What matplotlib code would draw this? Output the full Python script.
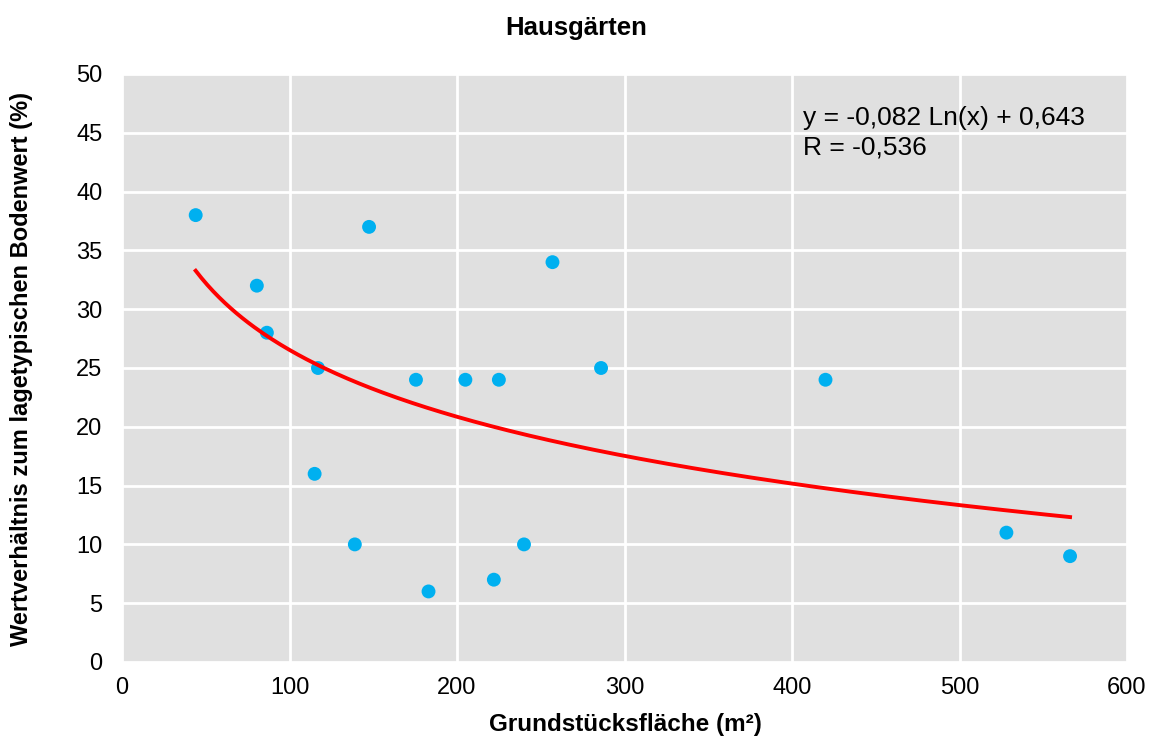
import numpy as np
import matplotlib
matplotlib.use("Agg")
import matplotlib.pyplot as plt

plt.rcParams["font.family"] = ["Liberation Sans", "DejaVu Sans"]

# Grundstücksfläche (m²) und Wertverhältnis (%)
flaeche = [44, 80.5, 86.5, 117, 115, 147.5, 139, 175.5, 183, 205, 225, 222, 240, 257, 286, 420, 528, 566]
wert = [38, 32, 28, 25, 16, 37, 10, 24, 6, 24, 24, 7, 10, 34, 25, 24, 11, 9]

# logarithmischer Trend: y = a Ln(x) + b (Anteil, nicht Prozent)
a, b = -0.082, 0.643

fig = plt.figure(figsize=(11.49, 7.37), dpi=100)
ax = fig.add_axes([122 / 1149, 1 - 662 / 737, 1005 / 1149, 588 / 737])
ax.set_facecolor("#e0e0e0")
ax.grid(True, color="white", lw=2)
ax.set_axisbelow(True)
for s in ax.spines.values():
    s.set_visible(False)

ax.scatter(flaeche, wert, s=100, color="#00b0f0", zorder=3, edgecolors="none")
xs = np.linspace(min(flaeche), max(flaeche), 300)
ax.plot(xs, (a * np.log(xs) + b) * 100, color="#ff0000", lw=2.8, zorder=4)

ax.set_xlim(0, 600)
ax.set_ylim(0, 50)
ax.set_xticks(range(0, 601, 100))
ax.set_yticks(range(0, 51, 5))
ax.tick_params(length=0, labelsize=17)
ax.tick_params(axis="x", pad=11)
ax.tick_params(axis="y", pad=14)

ax.text(803 / 1149, 1 - 133 / 737, "y = -0,082 Ln(x) + 0,643\nR = -0,536",
        transform=fig.transFigure, fontsize=19, va="center", ha="left", linespacing=1.27)

fig.text(576 / 1149, 1 - 28 / 737, "Hausgärten", fontsize=18.5, fontweight="bold", ha="center", va="center")
fig.text(625 / 1149, 1 - 724 / 737, "Grundstücksfläche (m²)", fontsize=17.5, fontweight="bold",
         ha="center", va="center")
fig.text(22 / 1149, 1 - 369 / 737, "Wertverhältnis zum lagetypischen Bodenwert (%)", fontsize=17,
         fontweight="bold", ha="center", va="center", rotation=90)

fig.savefig("out.png", dpi=100)
